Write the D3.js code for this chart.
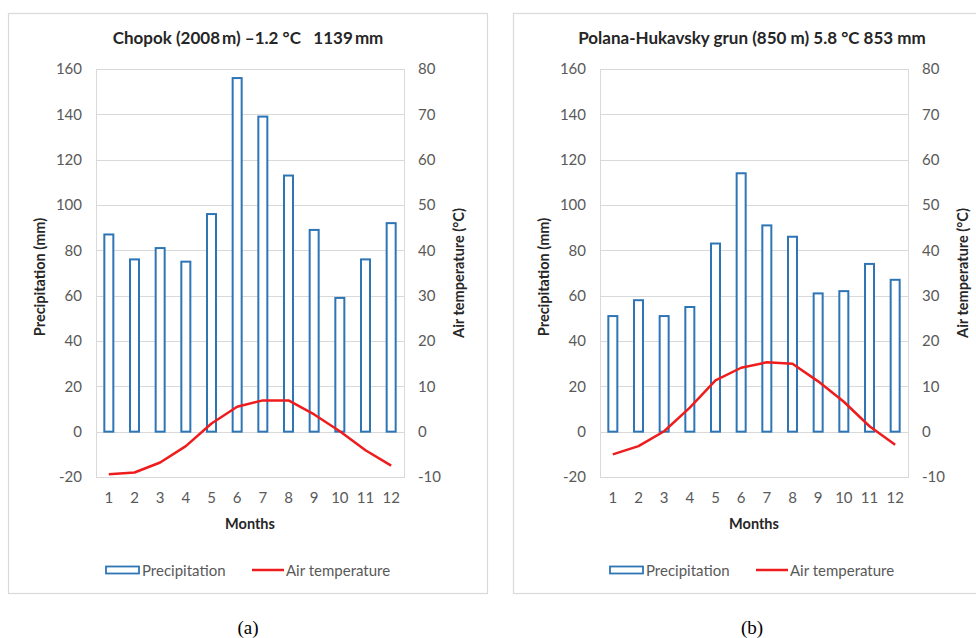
<!DOCTYPE html>
<html>
<head>
<meta charset="utf-8">
<script src="https://cdn.jsdelivr.net/npm/d3@7"></script>
<style>
  body { margin: 0; background: #fff; }
  svg { display: block; font-family: Lato, "Open Sans", sans-serif; }
</style>
</head>
<body>
<svg id="svg" width="976" height="638"></svg>
<script>
// chart data
const months = [1, 2, 3, 4, 5, 6, 7, 8, 9, 10, 11, 12];
const precipTicks = [-20, 0, 20, 40, 60, 80, 100, 120, 140, 160];
const tempTicks = [-10, 0, 10, 20, 30, 40, 50, 60, 70, 80];

const chopokTitle = "Chopok (2008\u2009m) \u20131.2 \u00b0C   1139\u2009mm";
const chopokPrecip = [87, 76, 81, 75, 96, 156, 139, 113, 89, 59, 76, 92];
const chopokTemp = [-9.4, -9.0, -6.8, -3.2, 1.8, 5.5, 6.9, 6.9, 3.8, 0.1, -4.1, -7.5];

const polanaTitle = "Polana-Hukavsky grun (850 m) 5.8 \u00b0C 853 mm";
const polanaPrecip = [51, 58, 51, 55, 83, 114, 91, 86, 61, 62, 74, 67];
const polanaTemp = [-5.0, -3.2, 0.1, 5.3, 11.3, 14.1, 15.3, 15.0, 11.1, 6.6, 1.2, -2.9];

const BAR = "#2e75b6";
const RED = "#ee1c1c";
const GRID = "#d9d9d9";
const TXT = "#595959";

const svg = d3.select("#svg");

function drawPanel(o) {
  const g = svg.append("g");

  // outer chart frame
  g.append("rect")
    .attr("x", o.box[0] + 0.5).attr("y", 13.5)
    .attr("width", o.box[1] - o.box[0]).attr("height", 580)
    .attr("fill", "none").attr("stroke", GRID).attr("stroke-width", 1.2);

  const top = 69, bottom = 477;
  const x = d3.scaleBand().domain(months).range([o.left, o.right]);
  const yP = d3.scaleLinear().domain([-20, 160]).range([bottom, top]);
  const yT = d3.scaleLinear().domain([-10, 80]).range([bottom, top]);

  // gridlines
  g.append("g").selectAll("line").data(precipTicks).join("line")
    .attr("x1", o.left).attr("x2", o.right)
    .attr("y1", d => Math.round(yP(d)) + 0.5).attr("y2", d => Math.round(yP(d)) + 0.5)
    .attr("stroke", GRID).attr("stroke-width", 1);
  g.append("rect")
    .attr("x", o.left + 0.5).attr("y", top + 0.5)
    .attr("width", o.right - o.left).attr("height", bottom - top)
    .attr("fill", "none").attr("stroke", GRID);

  // axes (plain hyphen for negatives, like the original)
  const fmt = d => String(d);
  const axL = g.append("g").attr("transform", `translate(${o.left - 14},0)`)
    .call(d3.axisLeft(yP).tickValues(precipTicks).tickFormat(fmt).tickSize(0).tickPadding(0));
  const axR = g.append("g").attr("transform", `translate(${o.right + 14},0)`)
    .call(d3.axisRight(yT).tickValues(tempTicks).tickFormat(fmt).tickSize(0).tickPadding(0));
  const axB = g.append("g").attr("transform", `translate(0,${bottom + 15})`)
    .call(d3.axisBottom(x).tickSize(0).tickPadding(0));
  [axL, axR, axB].forEach(a => {
    a.select(".domain").remove();
    a.selectAll("text").attr("fill", TXT).style("font-size", "15px")
      .style("font-family", "Lato, sans-serif");
  });
  axB.selectAll("text").attr("dy", "0.71em");

  // bars
  const bw = 9;
  g.append("g").selectAll("rect").data(o.precip).join("rect")
    .attr("x", (d, i) => x(months[i]) + x.bandwidth() / 2 - bw / 2)
    .attr("y", d => yP(d))
    .attr("width", bw)
    .attr("height", d => yP(0) - yP(d))
    .attr("fill", "#fff").attr("stroke", BAR).attr("stroke-width", 2);

  // temperature line
  const line = d3.line()
    .x((d, i) => x(months[i]) + x.bandwidth() / 2)
    .y(d => yT(d));
  g.append("path").datum(o.temp).attr("d", line)
    .attr("fill", "none").attr("stroke", RED).attr("stroke-width", 2.5)
    .attr("stroke-linejoin", "round");

  // titles and axis labels
  g.append("text").attr("x", o.titleX).attr("y", 44).attr("text-anchor", "middle")
    .attr("fill", "#262626").style("font-size", "17px").style("font-weight", "bold")
    .style("white-space", "pre")
    .text(o.title);
  g.append("text").attr("transform", `translate(${o.left - 51},${(top + bottom) / 2 + 4}) rotate(-90)`)
    .attr("text-anchor", "middle").attr("fill", "#262626")
    .style("font-size", "14.5px").style("font-weight", "bold")
    .text("Precipitation (mm)");
  g.append("text").attr("transform", `translate(${o.right + 60},${(top + bottom) / 2}) rotate(-90)`)
    .attr("text-anchor", "middle").attr("fill", "#262626")
    .style("font-size", "14.5px").style("font-weight", "bold")
    .text("Air temperature (\u00b0C)");
  g.append("text").attr("x", (o.left + o.right) / 2).attr("y", 529).attr("text-anchor", "middle")
    .attr("fill", "#262626").style("font-size", "14.5px").style("font-weight", "bold")
    .text("Months");

  // legend
  const lx = o.legendX;
  g.append("rect").attr("x", lx).attr("y", 566.5).attr("width", 33).attr("height", 7)
    .attr("fill", "#fff").attr("stroke", BAR).attr("stroke-width", 1.8);
  g.append("text").attr("x", lx + 36).attr("y", 575.5).attr("fill", TXT)
    .style("font-size", "15px").text("Precipitation");
  g.append("line").attr("x1", lx + 146).attr("x2", lx + 178).attr("y1", 570).attr("y2", 570)
    .attr("stroke", RED).attr("stroke-width", 2.5);
  g.append("text").attr("x", lx + 180).attr("y", 575.5).attr("fill", TXT)
    .style("font-size", "15px").text("Air temperature");

  // panel letter
  g.append("text").attr("x", o.titleX).attr("y", 634).attr("text-anchor", "middle")
    .attr("fill", "#000").style("font-family", "'Liberation Serif', serif").style("font-size", "19px")
    .text(o.letter);
}

drawPanel({
  box: [8, 487], left: 96, right: 404, titleX: 248, legendX: 106,
  title: chopokTitle, precip: chopokPrecip, temp: chopokTemp, letter: "(a)"
});
drawPanel({
  box: [513, 992], left: 600, right: 908, titleX: 752, legendX: 610,
  title: polanaTitle, precip: polanaPrecip, temp: polanaTemp, letter: "(b)"
});
</script>
</body>
</html>
